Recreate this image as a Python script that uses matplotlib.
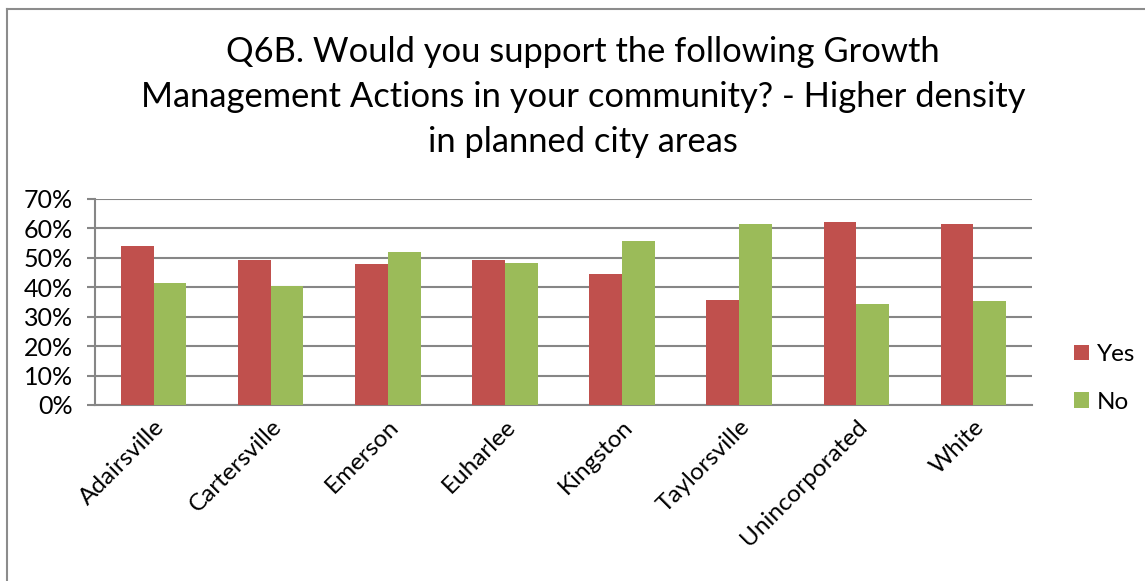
import matplotlib
matplotlib.use("Agg")
import matplotlib.pyplot as plt
import numpy as np
from matplotlib.lines import Line2D

categories = ["Adairsville", "Cartersville", "Emerson", "Euharlee", "Kingston",
              "Taylorsville", "Unincorporated", "White"]
yes_vals = [54.1, 49.2, 47.8, 49.4, 44.4, 35.8, 62.2, 61.4]
no_vals = [41.6, 40.3, 51.9, 48.2, 55.6, 61.5, 34.3, 35.3]
series_names = ["Yes", "No"]
title = ("Q6B. Would you support the following Growth\n"
         "Management Actions in your community? - Higher density\n"
         "in planned city areas")

FONT = ["Lato", "DejaVu Sans"]
plt.rcParams['font.family'] = FONT

W, H = 1145, 581
fig = plt.figure(figsize=(W / 100, H / 100), dpi=100)
fig.patch.set_facecolor("white")

# chart border (left and top visible)
fig.add_artist(Line2D([7 / W, 7 / W], [0, 1 - 9 / H], transform=fig.transFigure,
                      color="#8c8c8c", lw=1.5))
fig.add_artist(Line2D([7 / W, 1], [1 - 9 / H, 1 - 9 / H], transform=fig.transFigure,
                      color="#8c8c8c", lw=1.5))

left, right, top, bottom = 95, 1032, 199, 405
ax = fig.add_axes([left / W, 1 - bottom / H, (right - left) / W, (bottom - top) / H])

x = np.arange(len(categories))
bw = 0.28
ax.bar(x - bw / 2, yes_vals, width=bw, color="#C0504D", label=series_names[0], zorder=3)
ax.bar(x + bw / 2, no_vals, width=bw, color="#9BBB59", label=series_names[1], zorder=3)

ax.set_xlim(-0.5, len(categories) - 0.5)
ax.set_ylim(0, 70)
ax.set_yticks(np.arange(0, 71, 10))
ax.set_yticklabels([f"{v}%" for v in range(0, 71, 10)], fontsize=18)
ax.yaxis.grid(True, color="#868686", lw=1.5, zorder=0)
ax.set_axisbelow(True)
for s in ["top", "right"]:
    ax.spines[s].set_visible(False)
for s in ["left", "bottom"]:
    ax.spines[s].set_color("#868686")
    ax.spines[s].set_linewidth(1.5)
ax.tick_params(axis="y", length=6, width=1.5, color="#868686", pad=10)
ax.tick_params(axis="x", length=0, pad=8)
ax.set_xticks(x)
ax.set_xticklabels(categories, rotation=45, ha="right", va="top",
                   rotation_mode="anchor", fontsize=17.5)

ax.legend(loc="upper left", bbox_to_anchor=(1074 / W, 1 - 344 / H),
          bbox_transform=fig.transFigure, frameon=False, fontsize=17.5,
          borderpad=0, borderaxespad=0,
          handlelength=0.6, handleheight=0.6, labelspacing=1.1, handletextpad=0.35)

fig.text(583 / W, 1 - 97 / H, title, ha="center", va="center", fontsize=24.8,
         linespacing=1.5)

fig.savefig("out.png", dpi=100)
